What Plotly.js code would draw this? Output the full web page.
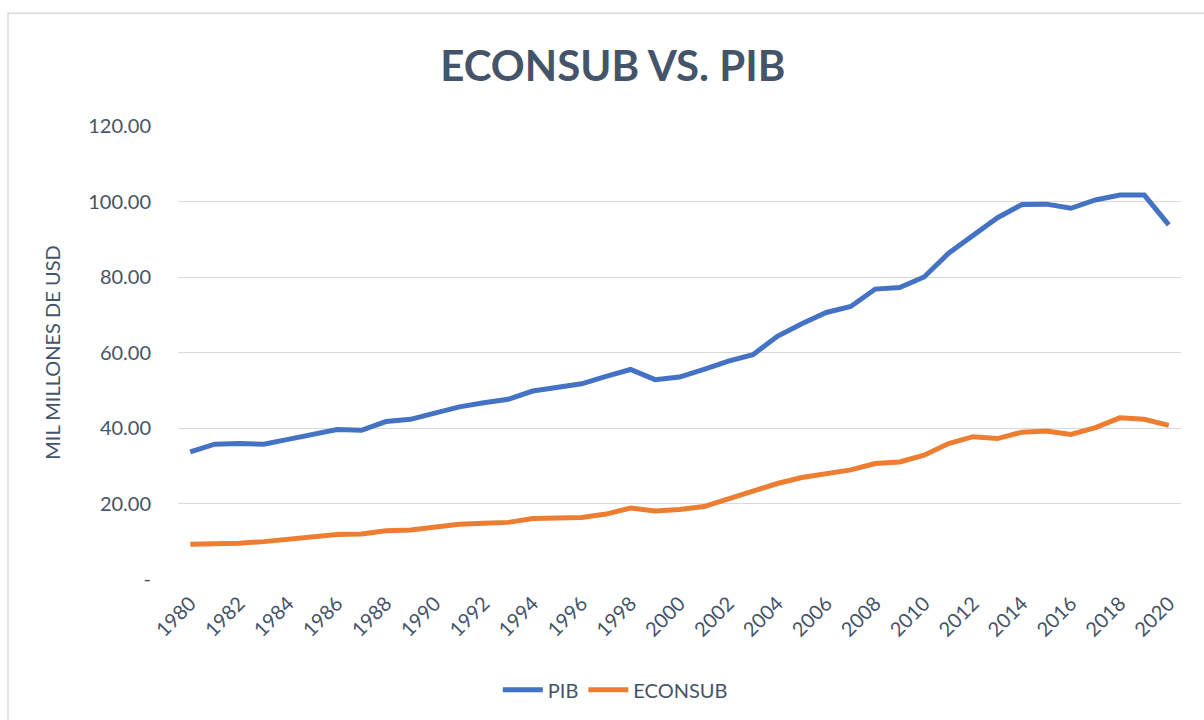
<!DOCTYPE html>
<html>
<head>
<meta charset="utf-8">
<script src="https://cdn.plot.ly/plotly-3.0.1.min.js"></script>
<style>html,body{margin:0;padding:0;background:#fff;}#chart{width:1204px;height:720px;}</style>
</head>
<body>
<div id="chart"></div>
<script>
var years = [1980,1981,1982,1983,1984,1985,1986,1987,1988,1989,1990,1991,1992,1993,1994,1995,1996,1997,1998,1999,2000,2001,2002,2003,2004,2005,2006,2007,2008,2009,2010,2011,2012,2013,2014,2015,2016,2017,2018,2019,2020];
var pib = [33.7,35.7,35.9,35.7,37.0,38.4,39.6,39.4,41.7,42.3,43.9,45.6,46.7,47.6,49.8,50.8,51.7,53.7,55.5,52.8,53.5,55.5,57.7,59.4,64.3,67.6,70.6,72.2,76.8,77.2,80.0,86.3,91.1,95.7,99.2,99.3,98.2,100.4,101.7,101.7,93.8];
var econsub = [9.2,9.2,9.5,9.9,10.6,11.2,11.8,11.9,12.8,13.0,13.7,14.5,14.8,15.0,16.0,16.3,16.3,17.2,18.8,18.0,18.4,19.2,21.3,23.2,25.3,26.9,27.9,28.9,30.6,31.0,32.8,35.9,37.7,37.2,38.9,39.2,38.3,40.1,42.7,42.3,40.7];
var yTickVals = [0,20,40,60,80,100,120];
var yTickText = ["-","20.00","40.00","60.00","80.00","100.00","120.00"];

var txt = "#44546a";
var fontFam = "Lato, 'Open Sans', sans-serif";

var data = [
  {x: years, y: pib, name: "PIB", type: "scatter", mode: "lines",
   line: {color: "#4472c4", width: 5}},
  {x: years, y: econsub, name: "ECONSUB", type: "scatter", mode: "lines",
   line: {color: "#ed7d31", width: 5}}
];

var layout = {
  width: 1204, height: 720,
  paper_bgcolor: "#fff", plot_bgcolor: "#fff",
  font: {family: fontFam, color: txt, size: 20},
  margin: {l: 178, r: 23, t: 126, b: 140},
  title: {text: "<b>ECONSUB VS. PIB</b>", font: {family: fontFam, size: 42, color: txt},
          x: 0.509, xref: "container", xanchor: "center", y: 0.908, yref: "container", yanchor: "middle"},
  xaxis: {range: [1979.5, 2020.5], tickmode: "linear", tick0: 1980, dtick: 2,
          tickangle: -45, showgrid: false, zeroline: false, showline: false, ticks: "",
          ticklabelstandoff: 8, tickfont: {size: 20, color: txt}, fixedrange: true},
  yaxis: {range: [0, 120], tickmode: "array", tickvals: yTickVals, ticktext: yTickText,
          showgrid: true, gridcolor: "#d9d9d9", gridwidth: 1, zeroline: false, showline: false,
          ticks: "", ticklabelstandoff: 26, tickfont: {size: 20, color: txt},
          title: {text: "MIL MILLONES DE USD", font: {size: 20, color: txt}, standoff: 22}},
  showlegend: true,
  legend: {orientation: "h", x: 0.436, xanchor: "center", y: -0.242, yanchor: "middle",
           font: {size: 20, color: txt}, itemwidth: 40, traceorder: "normal"},
  shapes: [{type: "rect", xref: "paper", yref: "paper", x0: -0.1695, x1: 1.03, y0: -0.33, y1: 1.249,
            line: {color: "#d9d9d9", width: 1.5}, fillcolor: "rgba(0,0,0,0)"}]
};

Plotly.newPlot("chart", data, layout, {displayModeBar: false, staticPlot: true});
</script>
</body>
</html>
